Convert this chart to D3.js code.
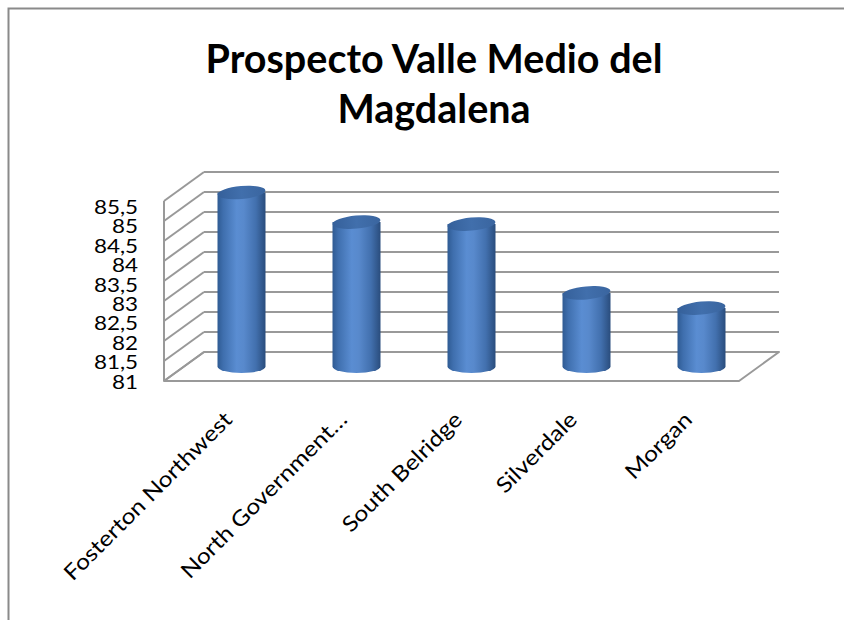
<!DOCTYPE html>
<html>
<head>
<meta charset="utf-8">
<script src="https://cdn.jsdelivr.net/npm/d3@7"></script>
<style>
  html, body { margin: 0; padding: 0; background: #ffffff; }
  svg { display: block; }
</style>
</head>
<body>
<svg id="chart" width="844" height="620"></svg>
<script>
// Chart content
const titleLines = ["Prospecto Valle Medio del", "Magdalena"];
const categories = ["Fosterton Northwest", "North Government…", "South Belridge", "Silverdale", "Morgan"];
const values = [85.35, 84.61, 84.56, 82.84, 82.46];
const yTicks = [81, 81.5, 82, 82.5, 83, 83.5, 84, 84.5, 85, 85.5];

const svg = d3.select("#chart");
const esLocale = d3.formatLocale({ decimal: ",", thousands: ".", grouping: [3], currency: ["", "€"] });
const fmt = esLocale.format("~g");

const fontFamily = "Lato, 'Open Sans', sans-serif";
const stretch = 1.15;   // wide-set lettering for axis labels

// Layout of the 3D box
const depthX = 40, depthY = -29;           // offset from front plane to back wall
const frontLeft = 164, frontRight = 739;
const backLeft = frontLeft + depthX, backRight = frontRight + depthX;

const y = d3.scaleLinear().domain([81, 85.5]).range([352, 172]);   // back-wall positions
const yLabel = d3.scaleLinear().domain([81, 85.5]).range([382, 207]);
const x = d3.scaleBand().domain(categories).range([frontLeft, frontRight]).padding(0);

const gridColor = "#999999";

// Outer frame
svg.append("rect")
  .attr("x", 8.5).attr("y", 8.5)
  .attr("width", 1000).attr("height", 1000)
  .attr("fill", "none")
  .attr("stroke", "#8a8a8a")
  .attr("stroke-width", 2);

// Title
svg.append("text")
  .attr("x", 434).attr("y", 73)
  .attr("text-anchor", "middle")
  .attr("font-family", fontFamily)
  .attr("font-weight", "bold")
  .attr("font-size", 39.5)
  .attr("fill", "#000")
  .selectAll("tspan")
  .data(titleLines)
  .join("tspan")
  .attr("x", 434)
  .attr("dy", (d, i) => i === 0 ? 0 : 50)
  .text(d => d);

// Floor
const floorY = y(81);
svg.append("path")
  .attr("d", `M${frontLeft},${floorY - depthY} L${backLeft},${floorY} L${backRight},${floorY} L${frontRight},${floorY - depthY} Z`)
  .attr("fill", "#ffffff")
  .attr("stroke", gridColor)
  .attr("stroke-width", 2)
  .attr("stroke-linejoin", "round");

// Back-wall gridlines
svg.append("g").selectAll("line")
  .data(yTicks.filter(t => t > 81))
  .join("line")
  .attr("x1", backLeft).attr("x2", backRight)
  .attr("y1", d => y(d)).attr("y2", d => y(d))
  .attr("stroke", gridColor).attr("stroke-width", 2);

// Side-wall gridlines
svg.append("g").selectAll("line")
  .data(yTicks)
  .join("line")
  .attr("x1", frontLeft).attr("y1", d => y(d) - depthY)
  .attr("x2", backLeft).attr("y2", d => y(d))
  .attr("stroke", gridColor).attr("stroke-width", 2);

svg.append("line")
  .attr("x1", frontLeft).attr("x2", frontLeft)
  .attr("y1", y(85.5) - depthY).attr("y2", y(81) - depthY)
  .attr("stroke", gridColor).attr("stroke-width", 2);

// Y tick labels
svg.append("g")
  .attr("transform", `translate(138,0) scale(${stretch},1)`)
  .selectAll("text")
  .data(yTicks)
  .join("text")
  .attr("x", 0)
  .attr("y", d => yLabel(d))
  .attr("dy", "0.35em")
  .attr("text-anchor", "end")
  .attr("font-family", fontFamily)
  .attr("font-size", 19.5)
  .attr("fill", "#000")
  .text(d => fmt(d));

// Cylinder shading
const defs = svg.append("defs");
const body = defs.append("linearGradient").attr("id", "cylBody").attr("x1", "0%").attr("x2", "100%");
[["0%", "#2f5b93"], ["12%", "#3f6fae"], ["40%", "#5a8dd2"], ["55%", "#5889cc"], ["80%", "#4270ae"], ["100%", "#2a4d7d"]]
  .forEach(([o, c]) => body.append("stop").attr("offset", o).attr("stop-color", c));
const cap = defs.append("linearGradient").attr("id", "cylTop").attr("x1", "0%").attr("x2", "100%");
[["0%", "#35609a"], ["50%", "#416fac"], ["100%", "#3a659f"]]
  .forEach(([o, c]) => cap.append("stop").attr("offset", o).attr("stop-color", c));

// Bars drawn as cylinders standing at mid depth
const rx = 24, ry = 6.5;
const midX = depthX / 2, midY = depthY / 2;
const bars = svg.append("g").selectAll("g")
  .data(categories.map((c, i) => ({ c, v: values[i] })))
  .join("g")
  .attr("transform", d => `translate(${x(d.c) + x.bandwidth() / 2 + midX},0)`);

bars.append("path")
  .attr("d", d => {
    const yt = y(d.v) - midY, yb = y(81) - midY;
    return `M${-rx},${yt} L${-rx},${yb} A${rx},${ry} 0 0 0 ${rx},${yb} L${rx},${yt} Z`;
  })
  .attr("fill", "url(#cylBody)");

bars.append("ellipse")
  .attr("cx", 0)
  .attr("cy", d => y(d.v) - midY)
  .attr("rx", rx).attr("ry", ry)
  .attr("transform", d => `rotate(-5,0,${y(d.v) - midY})`)
  .attr("fill", "url(#cylTop)");

// Category labels
svg.append("g").selectAll("text")
  .data(categories)
  .join("text")
  .attr("transform", d => `translate(${x(d) + x.bandwidth() / 2 + 12},421) rotate(-45) scale(${stretch},1)`)
  .attr("text-anchor", "end")
  .attr("font-family", fontFamily)
  .attr("font-size", 21.5)
  .attr("fill", "#000")
  .text(d => d);
</script>
</body>
</html>
